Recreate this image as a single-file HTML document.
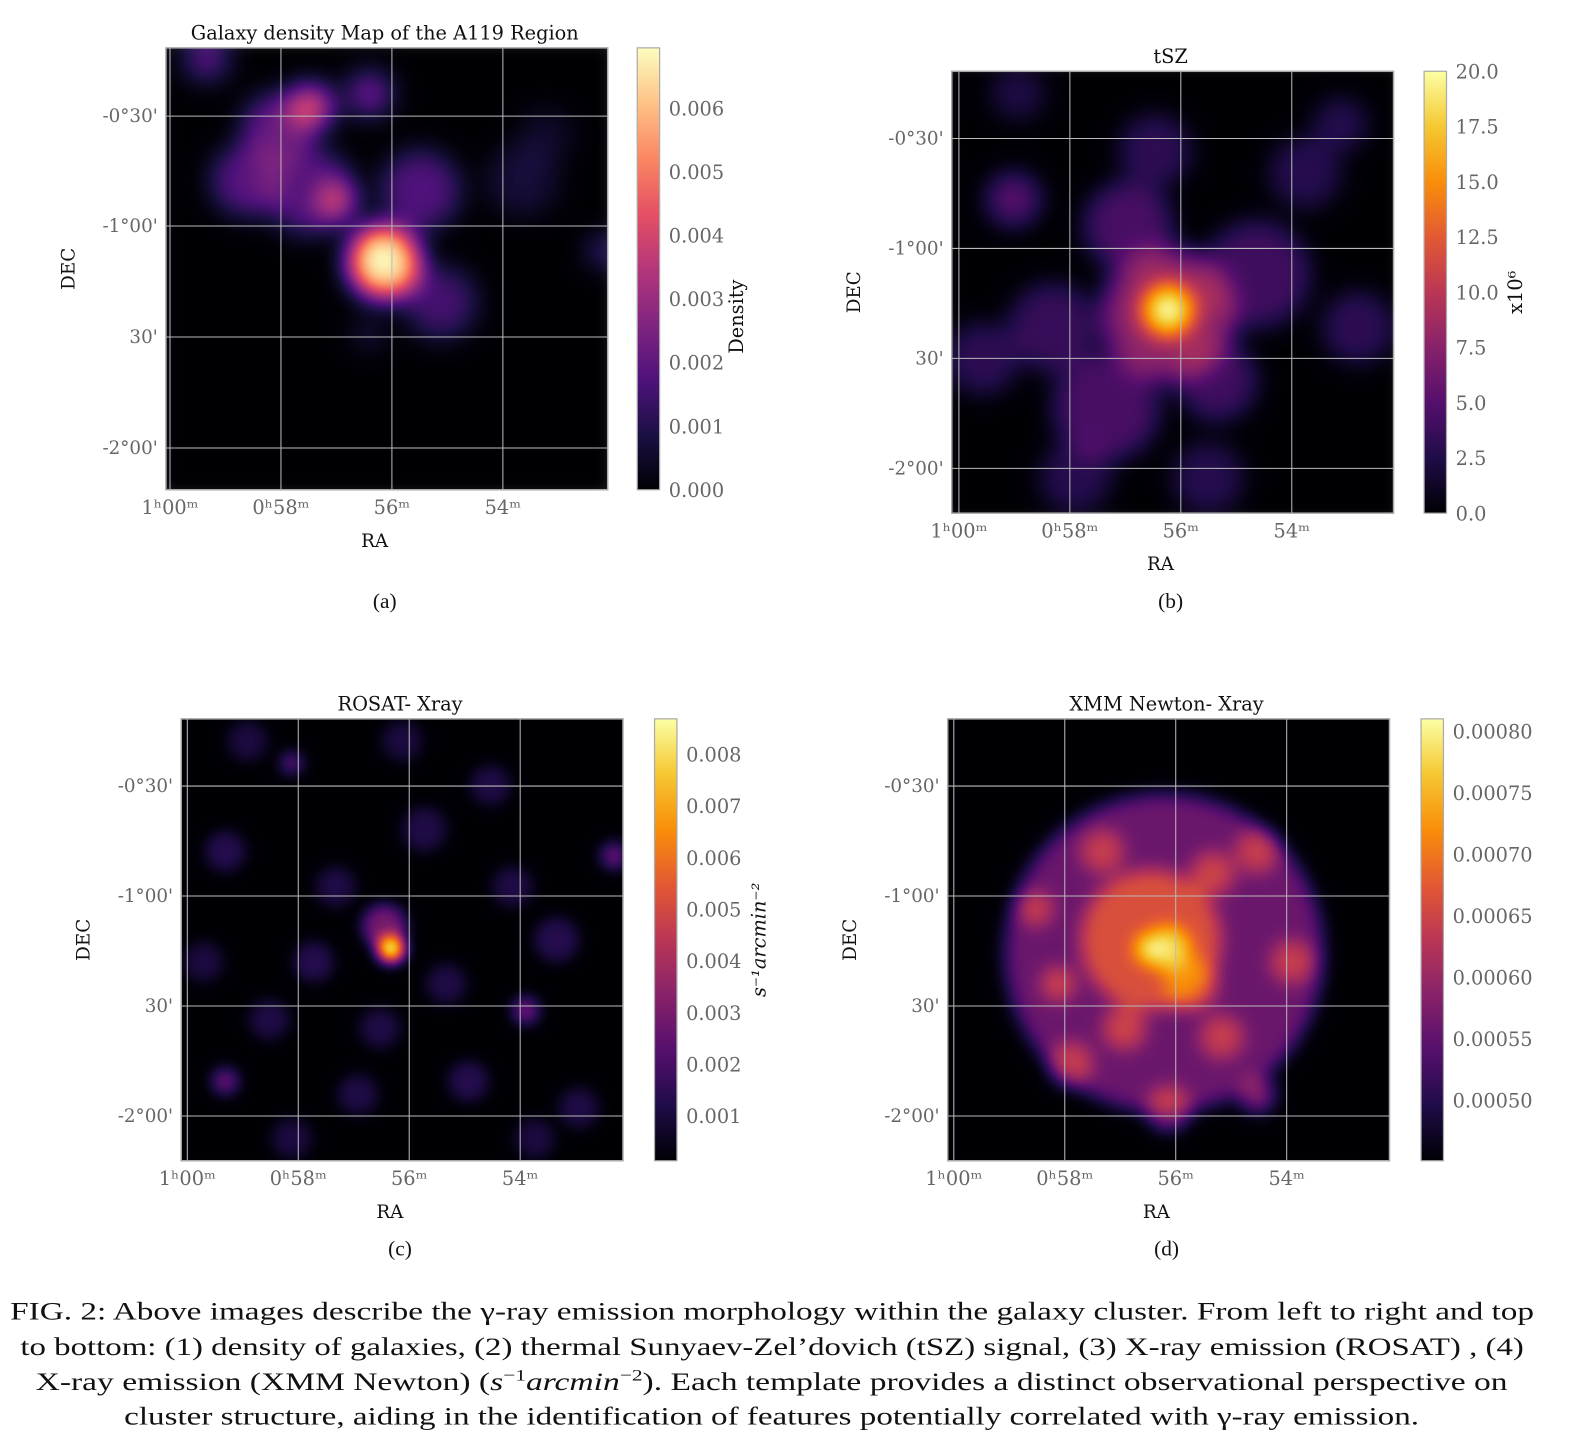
<!DOCTYPE html>
<html><head><meta charset="utf-8"><style>
html,body{margin:0;padding:0;background:#fff;}
svg{display:block;}
.tk{font-family:"DejaVu Serif","Liberation Serif",serif;}
.cap{font-family:"Liberation Serif",serif;}
</style></head><body>
<svg id="fig" width="1588" height="1454" viewBox="0 0 1560 1428" preserveAspectRatio="none" xmlns="http://www.w3.org/2000/svg">
<defs id="defs"></defs>
<g id="panels"></g>
<g font-size="25" fill="#111">
<text class="cap" x="10" y="1296" textLength="1497" lengthAdjust="spacingAndGlyphs">FIG. 2: Above images describe the γ-ray emission morphology within the galaxy cluster. From left to right and top</text>
<text class="cap" x="20" y="1331" textLength="1477" lengthAdjust="spacingAndGlyphs">to bottom: (1) density of galaxies, (2) thermal Sunyaev-Zel’dovich (tSZ) signal, (3) X-ray emission (ROSAT) , (4)</text>
<text class="cap" x="35" y="1365" textLength="1446" lengthAdjust="spacingAndGlyphs">X-ray emission (XMM Newton) (<tspan font-style="italic">s</tspan><tspan dy="-9" font-size="16">−1</tspan><tspan dy="9" font-style="italic">arcmin</tspan><tspan dy="-9" font-size="16">−2</tspan><tspan dy="9">). Each template provides a distinct observational perspective on</tspan></text>
<text class="cap" x="122" y="1399" textLength="1272" lengthAdjust="spacingAndGlyphs">cluster structure, aiding in the identification of features potentially correlated with γ-ray emission.</text>
</g>
</svg>
<script>
const NS='http://www.w3.org/2000/svg';
// Colorbar tick arrays
const ticksA=[0,0.001,0.002,0.003,0.004,0.005,0.006];
const labelsA=['0.000','0.001','0.002','0.003','0.004','0.005','0.006'];
const ticksB=[0,2.5,5,7.5,10,12.5,15,17.5,20];
const labelsB=['0.0','2.5','5.0','7.5','10.0','12.5','15.0','17.5','20.0'];
const ticksC=[0.001,0.002,0.003,0.004,0.005,0.006,0.007,0.008];
const labelsC=['0.001','0.002','0.003','0.004','0.005','0.006','0.007','0.008'];
const ticksD=[0.0005,0.00055,0.0006,0.00065,0.0007,0.00075,0.0008];
const labelsD=['0.00050','0.00055','0.00060','0.00065','0.00070','0.00075','0.00080'];
const raLabels=['1ʰ00ᵐ','0ʰ58ᵐ','56ᵐ','54ᵐ'];
const decLabels=["-0°30'","-1°00'","30'","-2°00'"];
// Emission blobs (fractional frame position, fractional radius, intensity)
const blobXA=[0.495,0.48,0.327,0.385,0.253,0.184,0.46,0.092,0.576,0.323,0.622,0.99,0.806,0.46,0.86];
const blobYA=[0.486,0.46,0.134,0.346,0.184,0.30,0.104,0.023,0.323,0.323,0.576,0.46,0.30,0.645,0.2];
const blobRA=[0.08,0.055,0.05,0.045,0.08,0.08,0.05,0.05,0.09,0.1,0.08,0.03,0.08,0.035,0.06];
const blobVA=[0.95,1.0,0.6,0.5,0.3,0.27,0.32,0.28,0.25,0.25,0.22,0.3,0.1,0.12,0.08];
const blobXB=[0.49,0.49,0.14,0.35,0.69,0.23,0.8,0.88,0.07,0.58,0.28,0.92,0.46,0.6,0.15,0.4];
const blobYB=[0.54,0.55,0.29,0.76,0.46,0.58,0.23,0.12,0.65,0.92,0.92,0.58,0.18,0.7,0.05,0.35];
const blobRB=[0.06,0.15,0.06,0.12,0.12,0.1,0.08,0.06,0.08,0.08,0.08,0.08,0.08,0.09,0.06,0.1];
const blobVB=[1.0,0.38,0.25,0.22,0.2,0.18,0.14,0.14,0.16,0.14,0.14,0.16,0.16,0.2,0.12,0.22];
const blobXC=[0.475,0.46,0.78,0.1,0.25,0.98,0.1,0.3,0.55,0.7,0.85,0.2,0.4,0.65,0.9,0.15,0.45,0.75,0.35,0.6,0.05,0.8,0.5,0.25];
const blobYC=[0.52,0.47,0.66,0.82,0.1,0.31,0.3,0.55,0.25,0.15,0.5,0.68,0.85,0.82,0.88,0.05,0.7,0.38,0.38,0.6,0.55,0.95,0.05,0.95];
const blobRC=[0.03,0.05,0.03,0.03,0.025,0.03,0.045,0.045,0.05,0.045,0.05,0.045,0.045,0.045,0.045,0.045,0.045,0.045,0.045,0.045,0.045,0.045,0.045,0.045];
const blobVC=[1.0,0.32,0.3,0.28,0.26,0.28,0.14,0.14,0.12,0.12,0.14,0.12,0.12,0.14,0.12,0.11,0.12,0.12,0.12,0.12,0.11,0.11,0.11,0.11];
const blobXD=[0.49,0.46,0.5,0.46,0.25,0.7,0.6,0.35,0.62,0.2,0.78,0.5,0.28,0.4,0.55,0.7];
const blobYD=[0.53,0.5,0.52,0.52,0.6,0.85,0.35,0.3,0.72,0.43,0.55,0.88,0.78,0.7,0.6,0.3];
const blobRD=[0.36,0.16,0.05,0.035,0.04,0.04,0.05,0.05,0.05,0.04,0.05,0.05,0.05,0.05,0.06,0.05];
const blobVD=[0.3,0.42,0.8,0.9,0.35,0.35,0.35,0.33,0.33,0.33,0.33,0.35,0.33,0.35,0.4,0.33];

const magma=[[0,0,4],[28,16,68],[79,18,123],[129,37,129],[181,54,122],[229,80,100],[251,135,97],[254,194,135],[252,253,191]];
const inferno=[[0,0,4],[31,12,72],[85,15,109],[136,34,106],[186,54,85],[227,89,51],[249,142,9],[245,200,50],[252,255,164]];

const panels=[
 {id:'a',fx:163,fy:47,cx:626,title:'Galaxy density Map of the A119 Region',cmap:magma,vmin:0,vmax:0.00695,ticks:ticksA,labels:labelsA,cbl:'Density',cblx:730,bx:blobXA,by:blobYA,br:blobRA,bv:blobVA,blur:13,gx:[4,113,222,331],gy:[67,175,284,393],sub:'(a)',suby:597},
 {id:'b',fx:935,fy:70,cx:1399,title:'tSZ',cmap:inferno,vmin:0,vmax:20,ticks:ticksB,labels:labelsB,cbl:'x10⁶',cblx:1495,bx:blobXB,by:blobYB,br:blobRB,bv:blobVB,blur:12,gx:[7,116,225,334],gy:[66,174,282,390],sub:'(b)',suby:597},
 {id:'c',fx:178,fy:706,cx:643,title:'ROSAT- Xray',cmap:inferno,vmin:0.000132,vmax:0.00869,ticks:ticksC,labels:labelsC,cbl:'s⁻¹arcmin⁻²',cblx:752,bx:blobXC,by:blobYC,br:blobRC,bv:blobVC,blur:7,gx:[6,115,224,333],gy:[66,174,282,390],sub:'(c)',suby:1233},
 {id:'d',fx:931,fy:706,cx:1396,title:'XMM Newton- Xray',cmap:inferno,vmin:0.000451,vmax:0.00081,ticks:ticksD,labels:labelsD,cbl:'',cblx:0,bx:blobXD,by:blobYD,br:blobRD,bv:blobVD,blur:9,gx:[6,115,224,333],gy:[66,174,282,390],sub:'(d)',suby:1233}
];
const S=434, CW=22;
const defs=document.getElementById('defs'), root=document.getElementById('panels');
function mk(tag,attrs,parent){const e=document.createElementNS(NS,tag);for(const k in attrs)e.setAttribute(k,attrs[k]);(parent||root).appendChild(e);return e;}
function hex(c){return 'rgb('+c.join(',')+')';}

panels.forEach(p=>{
 const g=mk('g',{});
 
 
 const f=mk('filter',{id:'f'+p.id,x:'0',y:'0',width:'1',height:'1','color-interpolation-filters':'sRGB'},defs);
 mk('feGaussianBlur',{stdDeviation:p.blur},f);
 const ct=mk('feComponentTransfer',{},f);
 ['R','G','B'].forEach((ch,i)=>mk('feFunc'+ch,{type:'table',tableValues:p.cmap.map(c=>(c[i]/255).toFixed(3)).join(' ')},ct));
 const cp=mk('clipPath',{id:'c'+p.id},defs);
 mk('rect',{x:p.fx,y:p.fy,width:S,height:S},cp);
 const img=mk('g',{'clip-path':'url(#c'+p.id+')'},g);
 
 
 const inner=mk('g',{filter:'url(#f'+p.id+')'},img);
 mk('rect',{x:p.fx-20,y:p.fy-20,width:S+40,height:S+40,fill:'#000'},inner);
 for(let i=0;i<p.bx.length;i++){
  const c=mk('circle',{cx:p.fx+p.bx[i]*S,cy:p.fy+p.by[i]*S,r:p.br[i]*S,fill:'#fff','fill-opacity':p.bv[i]},inner);
  
  
 }
 p.gx.forEach(x=>{const l=mk('line',{x1:p.fx+x,x2:p.fx+x,y1:p.fy,y2:p.fy+S,stroke:'#bbb','stroke-width':1},g);});
 p.gy.forEach(y=>{const l=mk('line',{x1:p.fx,x2:p.fx+S,y1:p.fy+y,y2:p.fy+y,stroke:'#bbb','stroke-width':1},g);});
 const fr=mk('rect',{x:p.fx,y:p.fy,width:S,height:S,fill:'none',stroke:'#aaa','stroke-width':1.5},g);
 
 p.gx.forEach((x,i)=>{const t=mk('text',{class:'tk',x:p.fx+x,y:p.fy+S+24,'text-anchor':'middle','font-size':19,fill:'#666'},g);t.textContent=raLabels[i];});
 p.gy.forEach((y,i)=>{const t=mk('text',{class:'tk',x:p.fx-8,y:p.fy+y+6,'text-anchor':'end','font-size':18,fill:'#666'},g);t.textContent=decLabels[i];});
 let t=mk('text',{class:'tk',x:p.fx+S/2-12,y:p.fy+S+56,'text-anchor':'middle','font-size':18,fill:'#111'},g);t.textContent='RA';
 t=mk('text',{class:'tk',x:0,y:0,'text-anchor':'middle','font-size':18,fill:'#111',transform:'translate('+(p.fx-90)+','+(p.fy+S/2)+') rotate(-90)'},g);t.textContent='DEC';
 t=mk('text',{class:'tk',x:p.fx+S/2-2,y:p.fy-8,'text-anchor':'middle','font-size':19,fill:'#111'},g);t.textContent=p.title;
 t=mk('text',{class:'cap',x:p.fx+S/2-2,y:p.suby,'text-anchor':'middle','font-size':21,fill:'#111'},g);t.textContent=p.sub;
 const lg=mk('linearGradient',{id:'g'+p.id,x1:0,y1:1,x2:0,y2:0},defs);
 p.cmap.forEach((c,i)=>mk('stop',{offset:(i/(p.cmap.length-1)),'stop-color':hex(c)},lg));
 const cb=mk('rect',{x:p.cx,y:p.fy,width:CW,height:S,fill:'url(#g'+p.id+')',stroke:'#aaa','stroke-width':1.2},g);
 
 const ys=v=>p.fy+S-(v-p.vmin)/(p.vmax-p.vmin)*S;
 p.ticks.forEach((v,i)=>{const tt=mk('text',{class:'tk',x:p.cx+CW+9,y:ys(v)+7,'font-size':19,fill:'#666'},g);tt.textContent=p.labels[i];});
 if(p.cbl){const tt=mk('text',{class:'tk',x:0,y:0,'text-anchor':'middle','font-size':19,fill:'#111',transform:'translate('+p.cblx+','+(p.fy+S/2+(p.id==='a'?47:0))+') rotate(-90)'},g);tt.textContent=p.cbl;if(p.id==='c')tt.setAttribute('font-style','italic');}
});
</script>
</body></html>
